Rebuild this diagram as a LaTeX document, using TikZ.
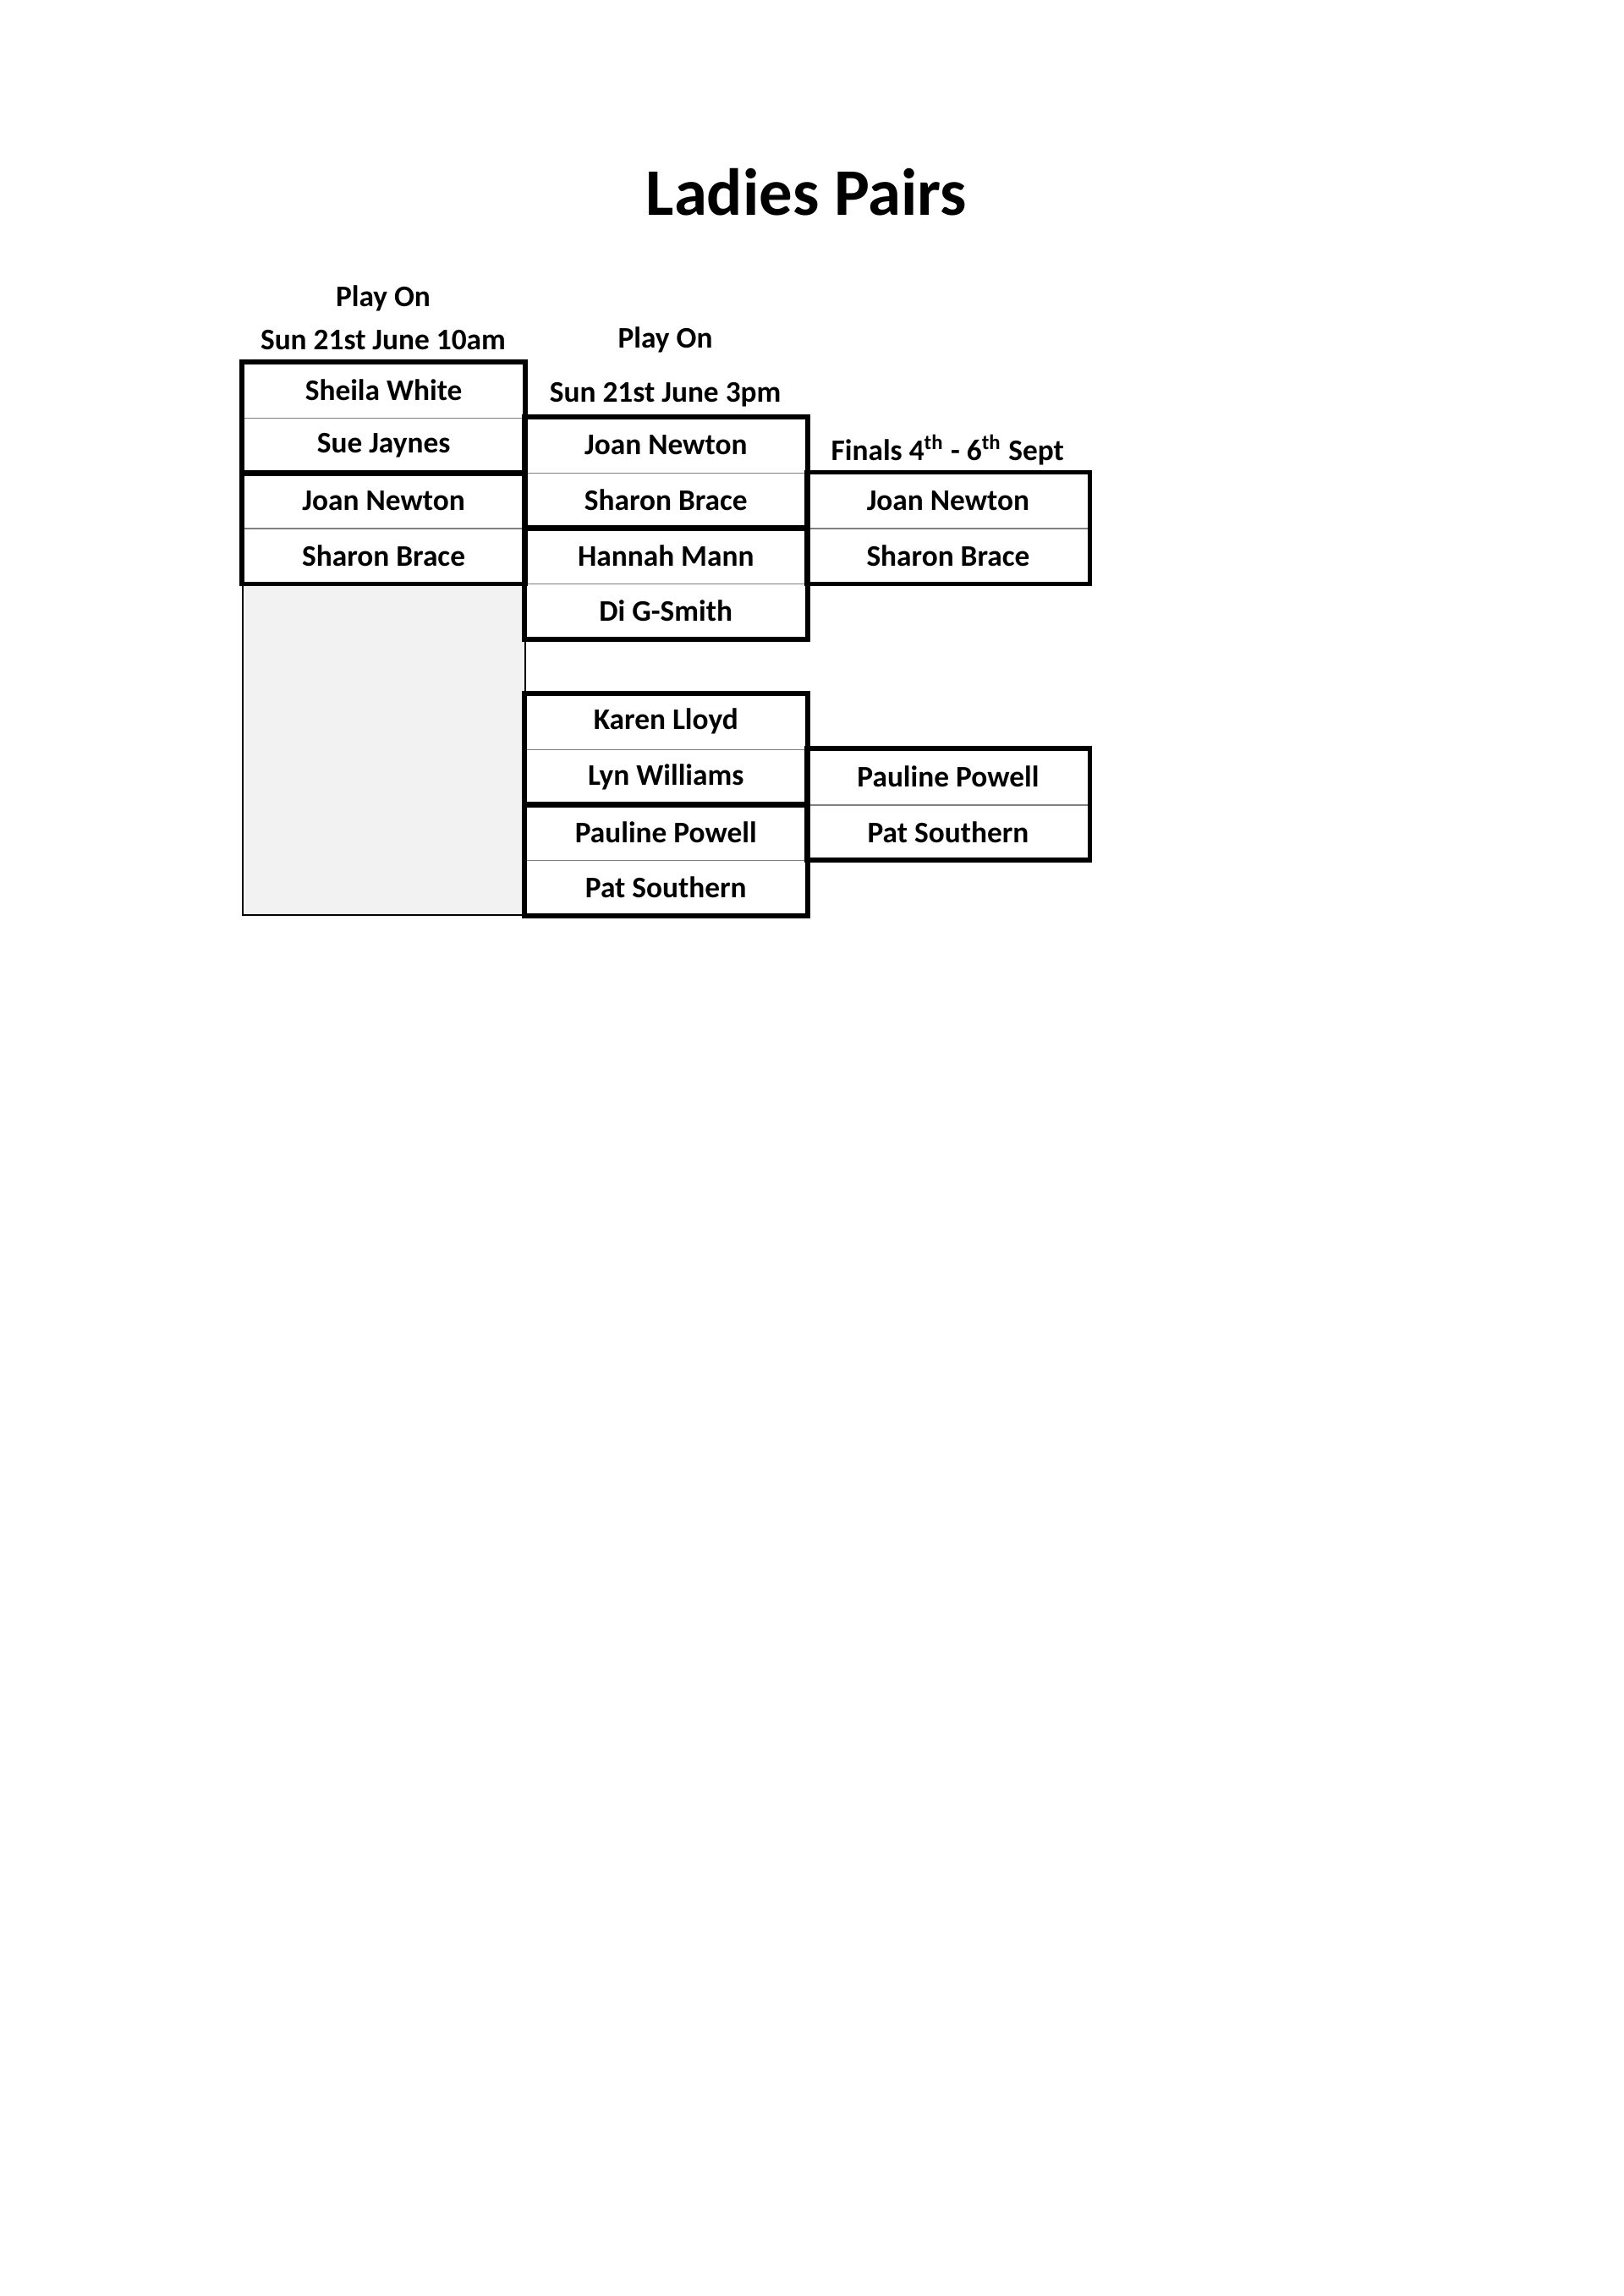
\documentclass[tikz,border=0pt]{standalone}
\usepackage{fontspec}
\setmainfont{Carlito}
\usetikzlibrary{positioning}

\tikzset{
  cell/.style={anchor=north west, minimum width=3.65cm, minimum height=0.715cm, inner sep=0pt, font=\bfseries\fontsize{11}{13}\selectfont},
  header/.style={inner sep=0pt, font=\bfseries\fontsize{11}{13}\selectfont},
  pairbox/.style={draw, line width=1.8pt},
  sepline/.style={draw=gray, line width=0.4pt},
  byebox/.style={anchor=north west, draw, line width=0.6pt, fill=gray!10, minimum width=3.65cm, minimum height=4.29cm, inner sep=0pt}
}

\begin{document}
\begin{tikzpicture}
            % page
            \useasboundingbox (0,0) rectangle (21,-29.7);

            % Title
            \node[font=\bfseries\fontsize{24.5}{29}\selectfont] (title) at (10.43,-2.49) {Ladies Pairs};

            % Column headers
            \node[header] (playA) at (4.955,-3.86) {Play On};
            \node[header] (dateA) at (4.955,-4.40) {Sun 21st June 10am};
            \node[header] (playB) at (8.605,-4.40) {Play On};
            \node[header] (dateB) at (8.605,-5.11) {Sun 21st June 3pm};
            \node[header] (final) at (12.255,-5.82) {Finals 4\textsuperscript{th} - 6\textsuperscript{th} Sept};

            % Grey empty block under first round
            \node[byebox] (bye) at (3.13,{-5.393-0.7153*3}) {};

            % First round
            \foreach \n/\r/\t in {a1/-1/Sheila White, a2/0/Sue Jaynes, a3/1/Joan Newton, a4/2/Sharon Brace} {
              \node[cell] (\n) at (3.13,{-5.393-0.7153*\r}) {\t};
            }

            % Second round
            \foreach \n/\r/\t in {b1/0/Joan Newton, b2/1/Sharon Brace, b3/2/Hannah Mann, b4/3/Di G-Smith,
                                  b5/5/Karen Lloyd, b6/6/Lyn Williams, b7/7/Pauline Powell, b8/8/Pat Southern} {
              \node[cell] (\n) at (6.78,{-5.393-0.7153*\r}) {\t};
            }

            % Finals
            \foreach \n/\r/\t in {c1/1/Joan Newton, c2/2/Sharon Brace, c3/6/Pauline Powell, c4/7/Pat Southern} {
              \node[cell] (\n) at (10.43,{-5.393-0.7153*\r}) {\t};
            }

            % Thin lines between partners
            \foreach \n in {a1,a3,b1,b3,b5,b7,c1,c3} {
              \draw[sepline] (\n.south west) -- (\n.south east);
            }

            % Thick boxes round each pair
            \foreach \p/\q in {a1/a2,a3/a4,b1/b2,b3/b4,b5/b6,b7/b8,c1/c2,c3/c4} {
              \draw[pairbox] (\p.north west) rectangle (\q.south east);
            }
\end{tikzpicture}
\end{document}
